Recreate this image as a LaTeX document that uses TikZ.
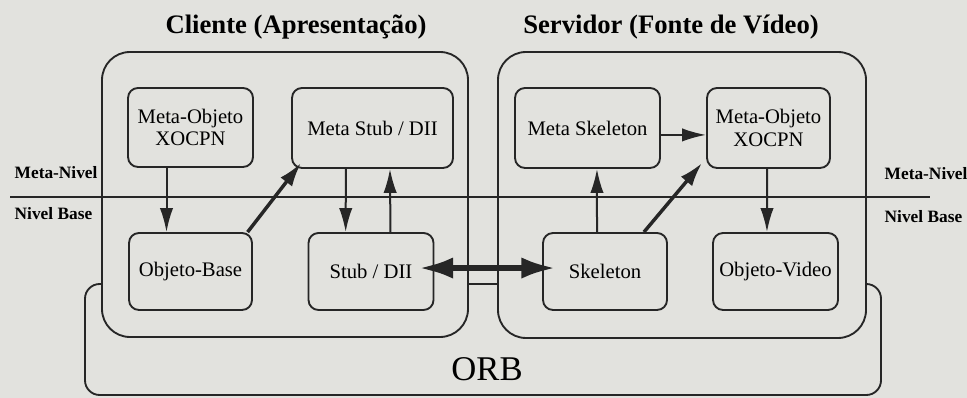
\documentclass[tikz,border=0pt]{standalone}
\usepackage{fontspec}
\setmainfont{Liberation Serif}
\usetikzlibrary{arrows.meta}
\definecolor{scan gray}{RGB}{226,226,222}
\definecolor{ink}{RGB}{38,38,38}

\tikzset{
	host/.style = {draw=ink, fill=scan gray, line width=1.4pt, rounded corners=21pt},
	obj/.style = {draw=ink, fill=scan gray, line width=1.4pt, rounded corners=7.5pt,
		align=center, inner sep=0pt, font=\fontsize{15.5}{17}\selectfont},
	px/.style args = {#1/#2}{minimum width=#1*0.75pt, minimum height=#2*0.75pt},
	call/.style = {ink, line width=1.5pt, -{Latex[length=18pt, width=10pt]}},
	reflect/.style = {ink, line width=2.6pt, -{Latex[length=18pt, width=11pt]}},
	level/.style = {anchor=west, font=\fontsize{13}{15}\selectfont\bfseries}
}

\begin{document}
\begin{tikzpicture}[x=0.75pt, y=-0.75pt]
	\fill[scan gray] (0,0) rectangle (967,398);
	\useasboundingbox (0,0) rectangle (967,398);
	% part for ORB
	\begin{scope}
		\draw[host, rounded corners=11pt] (85,284) rectangle (881,395);
		\node[font=\fontsize{26}{28}\selectfont] (orb) at (487,369) {ORB};
	\end{scope}
	% part for client and server
	\begin{scope}
		\draw[host] (102,52) rectangle (468,337);
		\draw[host] (498,52) rectangle (866,338);
		\node[font=\fontsize{20}{22}\selectfont\bfseries] (cliente) at (296,27) {Cliente (Apresentação)};
		\node[font=\fontsize{20}{22}\selectfont\bfseries] (servidor) at (671,27) {Servidor (Fonte de Vídeo)};
	\end{scope}
	% meta level / base level
	\draw[ink, line width=1.5pt] (10,197) -- (930,197);
	\node[level] (metaL) at (10,173) {Meta-Nivel};
	\node[level] (baseL) at (10,214) {Nivel Base};
	\node[level] (metaR) at (880,174) {Meta-Nivel};
	\node[level] (baseR) at (880,217) {Nivel Base};
	% objects
	\node[obj, px=125/79] (mobjc) at (190.5,127.5) {Meta-Objeto\\XOCPN};
	\node[obj, px=161/80] (mstub) at (372.5,128) {Meta Stub / DII};
	\node[obj, px=123/77] (objbase) at (190.5,271.5) {Objeto-Base};
	\node[obj, px=125/77] (stub) at (371,271.5) {Stub / DII};
	\node[obj, px=145/80] (mskel) at (587.5,128) {Meta Skeleton};
	\node[obj, px=123/80] (mobjs) at (768.5,128) {Meta-Objeto\\XOCPN};
	\node[obj, px=124/77] (skel) at (605,271.5) {Skeleton};
	\node[obj, px=125/77] (objvid) at (775.5,271.5) {Objeto-Video};
	% connectors
	\draw[call] ([xshift=-18pt]mobjc.south) -- ([xshift=-18pt]objbase.north);
	\draw[reflect] ([xshift=-4pt]objbase.north east) -- ([xshift=7.5pt, yshift=4.5pt]mstub.south west);
	\draw[call] ([xshift=-20pt]mstub.south) -- ([xshift=-19pt]stub.north);
	\draw[call] ([xshift=14.6pt]stub.north) -- ([xshift=13.1pt]mstub.south);
	\draw[ink, line width=4.5pt, {Latex[length=26pt, width=16pt]}-{Latex[length=26pt, width=16pt]}]
		([xshift=-12pt, yshift=2.6pt]stub.east) -- ([xshift=10.5pt, yshift=2.6pt]skel.west);
	\draw[call] ([xshift=-6pt]skel.north) -- ([xshift=7.1pt]mskel.south);
	\draw[reflect] ([xshift=-18pt]skel.north east) -- ([xshift=-3pt, yshift=4.5pt]mobjs.south west);
	\draw[call] ([yshift=-5.2pt]mskel.east) -- ([yshift=-5.2pt]mobjs.west);
	\draw[call] ([xshift=-1.1pt]mobjs.south) -- ([xshift=-6.4pt]objvid.north);
\end{tikzpicture}
\end{document}
